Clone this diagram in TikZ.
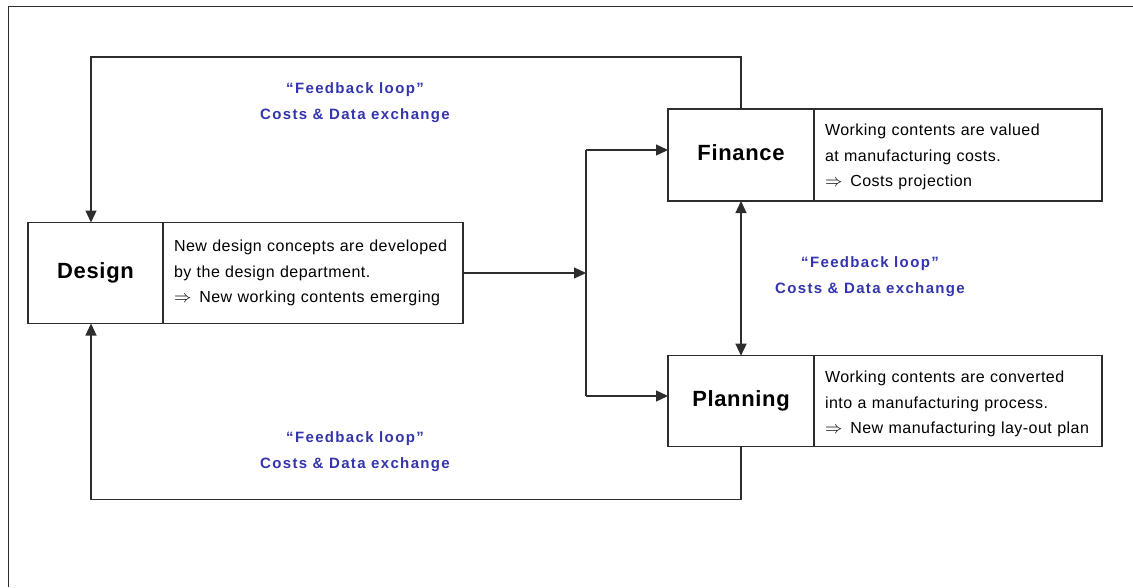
\documentclass[tikz,border=0pt]{standalone}
\usepackage{fontspec}
\setmainfont{Liberation Sans}
\usetikzlibrary{arrows.meta}

\definecolor{loopblue}{RGB}{52,52,172}
\definecolor{linegray}{RGB}{45,45,45}

\tikzset{
  titlebox/.style={draw=linegray, line width=1.3pt, anchor=north west,
    outer sep=0pt, minimum width=135pt, minimum height=101pt, inner sep=0pt,
    font=\fontsize{22pt}{26pt}\selectfont\bfseries\addfontfeature{LetterSpace=3}},
  descbox/.style={draw=linegray, line width=1.3pt, anchor=north west,
    outer sep=0pt, inner xsep=11pt, inner ysep=0pt, text width=266pt, minimum height=101pt,
    align=left, font=\fontsize{16pt}{25.5pt}\selectfont\addfontfeature{LetterSpace=3}},
  looplabel/.style={align=center, text=loopblue,
    font=\fontsize{15pt}{26pt}\selectfont\bfseries\addfontfeature{LetterSpace=9}},
  link/.style={draw=linegray, line width=1.3pt},
  arr/.style={link, -{Triangle[length=12pt,width=11pt]}},
  biarr/.style={link, {Triangle[length=12pt,width=11pt]}-{Triangle[length=12pt,width=11pt]}},
}

% lower a paragraph inside its node without changing the node's size
\newcommand{\lowered}[2]{\raisebox{-#1}[\height][\depth]{\parbox{266pt}{#2}}}

\begin{document}
\begin{tikzpicture}[x=1pt,y=1pt]
  \useasboundingbox (0,0) rectangle (1133,-587);

  % outer frame (left and top edges)
  \draw[linegray, line width=1.8pt] (8.5,-587) -- (8.5,-6.5) -- (1133,-6.5);

  % Design
  \node[titlebox, minimum width=135pt] (design) at (28,-222.5) {Design};
  \node[descbox, text width=278pt] (designtxt) at (design.north east)
    {New design concepts are developed\\by the design department.\\$\Rightarrow$\enspace New working contents emerging};

  % Finance
  \node[titlebox, minimum width=146pt, minimum height=92pt] (finance) at (668,-109) {\raisebox{4pt}{Finance}};
  \node[descbox, minimum height=92pt] (financetxt) at (finance.north east)
    {\lowered{2pt}{Working contents are valued\\at manufacturing costs.\\$\Rightarrow$\enspace Costs projection}};

  % Planning
  \node[titlebox, minimum width=146pt, minimum height=91pt] (planning) at (668,-355.7) {\raisebox{1pt}{Planning}};
  \node[descbox, minimum height=91pt] (planningtxt) at (planning.north east)
    {\lowered{3pt}{Working contents are converted\\into a manufacturing process.\\$\Rightarrow$\enspace New manufacturing lay-out plan}};

  % distribution from Design to Finance and Planning
  \coordinate (splittop) at (586,-150);
  \coordinate (splitbot) at (586,-396);
  \draw[arr] (designtxt.east) -- (designtxt.east -| splittop);
  \draw[link] (splittop) -- (splitbot);
  \draw[arr] (splittop) -- (finance.west |- splittop);
  \draw[arr] (splitbot) -- (planning.west |- splitbot);

  % feedback loops
  \coordinate (topcorner) at (91,-57);
  \coordinate (botcorner) at (91,-499.5);
  \draw[arr] (finance.north) |- (topcorner) -- (topcorner |- design.north);
  \draw[arr] (planning.south) |- (botcorner) -- (botcorner |- design.south);
  \draw[biarr] (finance.south) -- (planning.north);

  \node[looplabel] (looptop) at (355,-103) {“Feedback loop”\\Costs \& Data exchange};
  \node[looplabel] (loopmid) at (870,-277) {“Feedback loop”\\Costs \& Data exchange};
  \node[looplabel] (loopbot) at (355,-452) {“Feedback loop”\\Costs \& Data exchange};
\end{tikzpicture}
\end{document}
